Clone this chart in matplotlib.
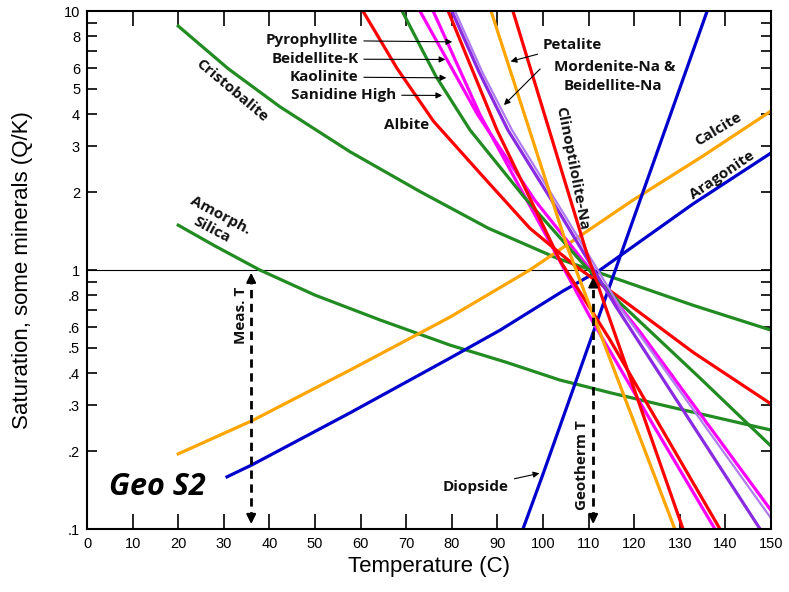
import matplotlib

matplotlib.use("Agg")
import matplotlib.pyplot as plt
from matplotlib.ticker import FixedLocator, NullFormatter

# values (temperature in C, saturation Q/K)
cristobalite_t = [20.0, 31.0, 42.3, 57.7, 73.0, 88.0, 103.1, 116.9, 133.0, 150.0]
cristobalite_q = [8.75, 5.98, 4.27, 2.86, 2.01, 1.45, 1.11, 0.915, 0.73, 0.586]

amorph_t = [20.0, 28.0, 37.9, 50.0, 64.3, 79.6, 92.0, 103.7, 115.0, 127.9, 150.0]
amorph_q = [1.49, 1.24, 1.0, 0.8, 0.641, 0.513, 0.44, 0.376, 0.335, 0.296, 0.241]

calcite_t = [20.0, 36.2, 57.7, 79.6, 97.1, 119.7, 135.0, 150.0]
calcite_q = [0.195, 0.262, 0.411, 0.658, 1.0, 1.86, 2.75, 4.11]

aragonite_t = [30.7, 36.2, 57.7, 79.6, 90.6, 104.4, 112.5, 132.9, 150.0]
aragonite_q = [0.159, 0.177, 0.281, 0.457, 0.586, 0.83, 1.0, 1.8, 2.83]

diopside_t = [95.6, 100.0, 136.0]
diopside_q = [0.1, 0.163, 10.0]

albite_t = [60.5, 68.0, 76.0, 86.8, 97.1, 107.0, 116.9, 133.0, 150.0]
albite_q = [10.0, 6.0, 3.75, 2.3, 1.45, 1.04, 0.78, 0.48, 0.304]

sanidine_t = [69.1, 76.5, 84.0, 96.0, 108.1, 116.9, 134.4, 150.0]
sanidine_q = [10.0, 5.6, 3.47, 1.9, 1.09, 0.746, 0.383, 0.209]

kaolinite_t = [73.0, 85.7, 98.2, 121.3, 150.0]
kaolinite_q = [10.0, 3.97, 1.86, 0.576, 0.118]

beidellite_k_t = [75.9, 86.2, 100.0, 110.3, 123.5, 137.7]
beidellite_k_q = [10.0, 3.97, 1.43, 0.659, 0.264, 0.1]

pyrophyllite_t = [79.2, 89.9, 103.7, 114.7, 138.8]
pyrophyllite_q = [10.0, 3.47, 1.09, 0.537, 0.1]

mordenite_t = [80.0, 86.0, 92.3, 104.0, 115.8, 147.6]
mordenite_q = [10.0, 5.8, 3.47, 1.62, 0.732, 0.1]

beidellite_na_t = [80.7, 86.7, 93.2, 105.0, 117.3, 150.0]
beidellite_na_q = [10.0, 5.8, 3.47, 1.6, 0.701, 0.110]

petalite_t = [88.6, 105.3, 128.9]
petalite_q = [10.0, 1.23, 0.1]

clino_t = [93.4, 109.6, 130.7]
clino_q = [10.0, 1.16, 0.1]

meas_t = 36
geotherm_t = 111

x_ticks = list(range(0, 151, 10))
y_ticks = [0.1, 0.2, 0.3, 0.4, 0.5, 0.6, 0.8, 1, 2, 3, 4, 5, 6, 8, 10]
y_tick_labels = [".1", ".2", ".3", ".4", ".5", ".6", ".8", "1", "2", "3", "4", "5", "6", "8", "10"]
y_minor = [0.7, 0.9, 7, 9]

RED = "#ff0000"
GREEN = "#228b22"
MAGENTA = "#ff00ff"
PURPLE = "#8a2be2"
ORANGE = "#ffa500"
BLUE = "#0000cd"
LW = 2.3

fig = plt.figure(figsize=(7.89, 5.92), dpi=100)
ax = fig.add_axes([0.1103, 0.1064, 0.8669, 0.875])
ax.set_yscale("log")
ax.set_xlim(0, 150)
ax.set_ylim(0.1, 10)

ax.axhline(1, color="black", lw=0.8, zorder=1)

ax.plot(cristobalite_t, cristobalite_q, color=GREEN, lw=LW)
ax.plot(amorph_t, amorph_q, color=GREEN, lw=LW)
ax.plot(calcite_t, calcite_q, color=ORANGE, lw=LW)
ax.plot(aragonite_t, aragonite_q, color=BLUE, lw=LW)
ax.plot(diopside_t, diopside_q, color=BLUE, lw=LW)
ax.plot(kaolinite_t, kaolinite_q, color=MAGENTA, lw=LW)
ax.plot(beidellite_k_t, beidellite_k_q, color=MAGENTA, lw=LW)
ax.plot(albite_t, albite_q, color=RED, lw=LW)
ax.plot(sanidine_t, sanidine_q, color=GREEN, lw=LW)
ax.plot(pyrophyllite_t, pyrophyllite_q, color=RED, lw=LW)
ax.plot(beidellite_na_t, beidellite_na_q, color="#b07cf0", lw=1.6)
ax.plot(mordenite_t, mordenite_q, color=PURPLE, lw=LW)
ax.plot(petalite_t, petalite_q, color=ORANGE, lw=LW)
ax.plot(clino_t, clino_q, color=RED, lw=LW)

# measured and geothermometer temperatures
for t, top in [(meas_t, 1.0), (geotherm_t, 0.96)]:
    ax.plot([t, t], [0.108, top * 0.93], color="black", lw=2, ls=(0, (3, 2)))
    ax.annotate("", xy=(t, top), xytext=(t, top * 0.9),
                arrowprops=dict(arrowstyle="-|>", color="black", lw=1.5, mutation_scale=14))
    ax.annotate("", xy=(t, 0.102), xytext=(t, 0.115),
                arrowprops=dict(arrowstyle="-|>", color="black", lw=1.5, mutation_scale=14))

lab = dict(fontsize=11, fontweight="bold", family="Open Sans", color="#111111")
arrow = dict(arrowstyle="-|>", color="black", lw=0.8, mutation_scale=9)

ax.text(meas_t - 2.3, 0.67, "Meas. T", rotation=90, ha="center", va="center", **lab)
ax.text(geotherm_t - 2.4, 0.177, "Geotherm T", rotation=90, ha="center", va="center", **lab)

ax.annotate("Pyrophyllite", xy=(80.7, 7.6), xytext=(59.5, 7.7), ha="right", va="center",
            arrowprops=arrow, **lab)
ax.annotate("Beidellite-K", xy=(79.2, 6.5), xytext=(59.5, 6.52), ha="right", va="center",
            arrowprops=arrow, **lab)
ax.annotate("Kaolinite", xy=(79.4, 5.52), xytext=(59.5, 5.56), ha="right", va="center",
            arrowprops=arrow, **lab)
ax.annotate("Sanidine High", xy=(78.5, 4.72), xytext=(67.8, 4.74), ha="right", va="center",
            arrowprops=arrow, **lab)
ax.text(70.0, 3.62, "Albite", ha="center", va="center", **lab)
ax.annotate("Petalite", xy=(92.3, 6.35), xytext=(100.0, 7.4), ha="left", va="center",
            arrowprops=arrow, **lab)
ax.annotate("", xy=(91.0, 4.26), xytext=(99.8, 6.08), arrowprops=arrow)
ax.text(115.8, 6.08, "Mordenite-Na &", ha="center", va="center", **lab)
ax.text(115.4, 5.13, "Beidellite-Na", ha="center", va="center", **lab)
ax.text(106.3, 2.48, "Clinoptilolite-Na", rotation=-79, ha="center", va="center", **lab)
ax.text(138.4, 3.5, "Calcite", rotation=31, ha="center", va="center", **lab)
ax.text(139.3, 2.33, "Aragonite", rotation=34, ha="center", va="center", **lab)
ax.text(31.8, 4.91, "Cristobalite", rotation=-40, ha="center", va="center", **lab)
ax.text(29.2, 1.62, "Amorph.", rotation=-28, ha="center", va="center", **lab)
ax.text(27.4, 1.43, "Silica", rotation=-28, ha="center", va="center", **lab)
ax.annotate("Diopside", xy=(99.8, 0.165), xytext=(92.5, 0.145), ha="right", va="center",
            arrowprops=arrow, **lab)
ax.text(15.4, 0.145, "Geo S2", fontsize=22, fontweight="bold", style="italic",
        family="Open Sans", ha="center", va="center")

ax.set_xticks(x_ticks)
ax.set_xticklabels([str(v) for v in x_ticks])
ax.yaxis.set_major_locator(FixedLocator(y_ticks))
ax.set_yticklabels(y_tick_labels)
ax.yaxis.set_minor_locator(FixedLocator(y_minor))
ax.yaxis.set_minor_formatter(NullFormatter())
ax.tick_params(axis="x", which="major", direction="in", length=11, width=1.2, top=True,
               labelsize=10.5, pad=6)
ax.tick_params(axis="y", which="major", direction="in", length=7, width=1.2, right=True,
               labelsize=10.5, pad=5)
ax.tick_params(axis="y", which="minor", direction="in", length=7, width=1.2, right=True)
for label in ax.get_xticklabels() + ax.get_yticklabels():
    label.set_family("Liberation Sans")
for spine in ax.spines.values():
    spine.set_linewidth(1.5)

ax.set_xlabel("Temperature (C)", fontsize=16, family="Liberation Sans", labelpad=3)
ax.set_ylabel("Saturation, some minerals (Q/K)", fontsize=16, family="Liberation Sans",
              labelpad=22)

fig.savefig("out.png", dpi=100)
